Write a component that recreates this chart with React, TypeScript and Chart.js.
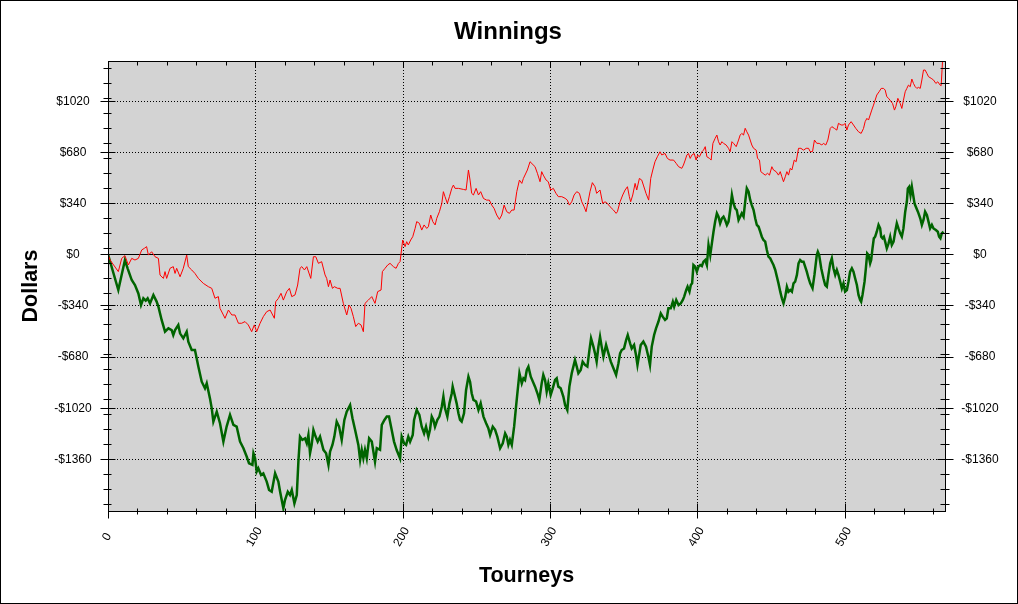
import { useEffect, useRef } from "react";
import { Chart, registerables } from "chart.js";

Chart.register(...registerables);

// ---- axis ranges & ticks ----
const X_MIN = 0;
const X_MAX = 568;
const Y_MIN = -1705;
const Y_MAX = 1284;
const xMajorTicks = [0, 100, 200, 300, 400, 500];
const xMinorTicks = [20, 40, 60, 80, 120, 140, 160, 180, 220, 240, 260, 280, 320, 340, 360, 380, 420, 440, 460, 480, 520, 540, 560];
const yMajorTicks = [-1360, -1020, -680, -340, 0, 340, 680, 1020];
const yMinorTicks = [-1660, -1560, -1460, -1260, -1160, -1060, -960, -860, -760, -660, -560, -460, -360, -260, -160, -60, 40, 140, 240, 440, 540, 640, 740, 840, 940, 1040, 1140, 1240];

const titleText = "Winnings";
const xTitle = "Tourneys";
const yTitle = "Dollars";

// ---- red series (tourney, dollars) ----
const redT = [0, 1.4, 7.0, 9.3, 11.5, 13.8, 16.1, 18.3, 20.6, 22.9, 24.7, 26.2, 27.4, 29.6, 31.9, 34.2, 35.3, 37.6, 38.7, 39.8, 42.1, 44.3, 45.5, 46.6, 48.9, 51.1, 53.4, 54.5, 56.8, 59.0, 61.3, 64.7, 68.1, 70.4, 72.6, 74.9, 76.0, 78.3, 79.4, 81.7, 84.0, 86.2, 88.5, 90.7, 93.0, 95.2,
  97.5, 99.3, 100.9, 103.2, 105.4, 107.7, 110.0, 112.9, 113.8, 115.6, 117.4, 119.0, 121.3, 123.1, 124.7, 126.9, 128.7, 130.3, 131.5, 133.3, 134.9, 137.6, 139.4, 141.0, 142.8, 145.0, 147.3, 148.4, 149.6, 150.7, 152.3, 153.6, 155.9, 157.5, 159.7, 162.0, 163.6, 164.9, 166.5, 168.1, 169.9, 171.7, 173.3, 174.4, 176.7, 179.0, 181.2, 183.0, 185.3, 186.2, 188.0, 189.8, 191.4,
  193.7, 195.5, 197.1, 198.2, 200.0, 201.6, 202.7, 203.8, 205.4, 206.8, 208.4, 209.5, 211.3, 212.9, 214.5, 216.3, 217.4, 219.0, 220.4, 222.0, 223.1, 224.9, 226.5, 227.6, 228.7, 230.3, 231.7, 233.3, 234.4, 235.5, 237.8, 241.2, 243.0, 244.6, 245.7, 246.8, 248.0, 249.8, 251.4, 252.9, 254.8, 257.0, 258.8, 260.4, 262.0, 263.8, 265.6, 267.2, 268.8, 270.6, 272.4, 274.0, 275.6, 277.4, 279.2, 280.8, 281.9, 284.6,
  286.4, 289.8, 291.4, 293.2, 294.3, 295.4, 297.3, 298.8, 300.4, 302.2, 304.0, 305.6, 307.9, 310.2, 311.7, 313.1, 314.7, 316.3, 318.1, 319.9, 321.5, 323.1, 324.4, 326.0, 327.1, 328.7, 330.5, 331.6, 333.9, 335.7, 337.3, 338.9, 340.7, 343.0, 344.8, 345.7, 347.5, 349.3, 350.9, 352.5, 353.8, 354.7, 356.1, 357.7, 358.8, 360.6, 362.2, 363.3, 365.1, 366.9, 368.3, 369.7, 371.2, 372.8, 374.6, 375.8, 378.0, 379.6, 381.4,
  383.8, 385.6, 387.2, 389.4, 390.5, 391.7, 392.8, 393.9, 395.1, 396.2, 397.8, 399.1, 400.1, 401.4, 403.0, 404.1, 405.3, 406.4, 408.2, 409.3, 410.5, 412.0, 413.2, 414.3, 415.4, 416.6, 417.7, 419.5, 421.1, 422.2, 423.4, 424.5, 426.3, 427.9, 429.0, 430.1, 431.3, 432.4, 433.5, 434.7, 435.8, 436.9, 438.1, 439.9, 440.8, 442.1, 443.0, 444.4, 446.0, 447.6, 448.9, 450.5, 451.6, 453.4, 455.0, 456.2, 457.3, 458.4, 459.6, 460.7, 461.8, 463.0, 464.1, 465.7, 467.0, 468.6, 470.2, 472.0, 473.8,
  475.4, 476.5, 478.1, 479.4, 481.0, 482.6, 484.4, 485.5, 487.1, 488.5, 490.1, 491.2, 493.0, 494.6, 495.7, 497.5, 499.1, 500.2, 501.4, 502.5, 504.3, 505.9, 507.5, 509.3, 511.1, 512.7, 513.8, 515.0, 516.1, 517.2, 518.3, 519.5, 520.6, 521.7, 523.3, 524.7, 526.3, 527.4, 528.5, 529.7, 531.5, 532.4, 533.7, 534.6, 536.0, 537.6, 538.7, 539.8, 541.0, 542.1, 543.2, 544.4, 545.5, 546.6, 547.8, 548.9, 550.0, 551.2, 552.3, 553.4, 554.5, 555.7, 556.8, 558.6, 560.2, 561.8, 563.1, 564.7, 565.4, 566.3, 567.0];
const redV = [0, -38, -115, -27, -9, -71, -27, -38, -27, 29, 40, 51, -5, 17, -16, -27, -138, -160, -115, -160, -93, -82, -127, -93, -149, -93, -5, -82, -104, -127, -160, -193, -215, -226, -292, -281, -359, -403, -425, -370, -403, -403, -458, -458, -447, -469,
  -514, -469, -514, -458, -414, -381, -370, -425, -315, -293, -259, -304, -248, -226, -281, -270, -204, -93, -82, -104, -82, -160, -16, -16, -60, -49, -137, -160, -215, -171, -226, -215, -226, -226, -326, -403, -337, -359, -414, -480, -458, -469, -514, -326, -304, -281, -326, -248, -237, -115, -93, -71, -60,
  -82, -93, -60, -49, 95, 51, 84, 62, 95, 117, 172, 217, 206, 161, 195, 172, 183, 261, 217, 195, 239, 283, 338, 416, 383, 338, 383, 438, 460, 438, 438, 431, 427, 560, 493, 405, 394, 438, 394, 416, 371, 360, 360, 327, 305, 261, 232, 261, 327, 283, 272, 294, 294, 416, 493, 471, 504, 560,
  615, 582, 538, 482, 549, 526, 493, 482, 427, 438, 405, 383, 383, 372, 360, 327, 349, 394, 416, 405, 349, 316, 283, 360, 416, 476, 449, 405, 427, 338, 349, 338, 316, 294, 272, 283, 349, 394, 427, 449, 383, 349, 394, 471, 427, 504, 493, 460, 405, 360, 504, 560, 615, 648, 681, 660, 670, 637, 626,
  626, 604, 582, 571, 593, 626, 659, 670, 637, 659, 670, 626, 659, 648, 681, 692, 715, 648, 637, 626, 737, 770, 792, 748, 726, 748, 737, 726, 704, 681, 748, 737, 715, 759, 792, 803, 792, 837, 814, 792, 759, 726, 704, 692, 637, 626, 549, 538, 526, 538, 526, 582, 560, 549, 526, 549, 515, 482, 515, 549, 526, 571, 560, 626, 615, 704, 704, 692, 704,
  704, 682, 682, 759, 737, 737, 726, 737, 726, 759, 836, 848, 836, 825, 870, 859, 859, 870, 825, 859, 881, 859, 836, 814, 803, 836, 881, 903, 892, 925, 958, 991, 1024, 1058, 1080, 1102, 1102, 1091, 1047, 1036, 1013, 1002, 958, 980, 1036, 1002, 969, 1024, 1080, 1102, 1124, 1113, 1164, 1135, 1113, 1102, 1109, 1102, 1158, 1224, 1224, 1202, 1180, 1169, 1158, 1135, 1146, 1124, 1120, 1279, 1310];

// ---- green series (tourney, dollars) ----
const greenT = [0, 7.0, 11.5, 13.3, 16.1, 18.3, 20.6, 22.4, 24.0, 25.6, 26.9, 28.5, 30.8, 33.0, 34.2, 36.4, 38.7, 41.0, 43.2, 44.3, 45.5, 47.7, 48.9, 51.1, 53.4, 54.5, 56.8, 59.0, 61.3, 63.6, 65.8, 67.0, 69.2, 70.4, 71.5, 73.8, 76.0, 78.3, 80.5, 82.8, 85.1, 87.3, 89.6, 91.9, 94.1, 95.7,
  98.0, 98.7, 99.8, 100.9, 102.0, 103.9, 105.4, 107.7, 109.3, 111.1, 113.4, 115.6, 116.8, 119.0, 120.1, 122.0, 123.5, 124.7, 126.5, 128.1, 129.2, 130.3, 131.9, 133.7, 134.9, 136.0, 137.1, 138.2, 139.4, 140.5, 142.3, 143.9, 146.2, 148.0, 149.6, 150.7, 152.3, 153.6, 155.2, 156.8, 158.6, 160.4, 162.0, 164.3, 165.9, 167.7, 169.9, 171.1, 172.2, 173.3, 174.4, 175.6, 177.2, 179.0, 181.2, 182.4, 184.6, 185.8, 187.6, 189.2, 190.7,
  192.5, 194.1, 195.9, 198.2, 199.3, 200.9, 202.3, 203.8, 205.0, 206.8, 207.7, 209.5, 211.3, 212.9, 214.5, 215.8, 217.4, 218.5, 219.7, 220.8, 221.9, 223.5, 224.9, 226.5, 227.6, 228.7, 230.3, 231.7, 233.3, 233.9, 235.5, 236.6, 237.8, 238.9, 240.0, 241.6, 243.0, 244.6, 245.7, 246.8, 248.0, 249.8, 251.4, 252.9, 254.8, 256.6, 258.1, 259.3, 261.1, 262.7, 264.2, 266.1, 267.9, 269.5, 270.6, 271.7, 272.8, 274.0, 275.6, 276.9, 277.8, 279.2, 280.8, 281.9, 283.0, 284.2, 285.3, 286.9,
  289.8, 291.4, 292.7, 294.3, 295.4, 296.6, 297.7, 298.8, 300.4, 301.8, 303.4, 304.5, 305.6, 307.2, 309.0, 310.2, 311.7, 313.1, 314.7, 315.8, 316.9, 318.1, 319.2, 320.8, 322.1, 323.7, 325.3, 326.7, 327.8, 329.4, 330.5, 331.6, 332.8, 333.9, 335.0, 336.2, 338.0, 339.6, 341.2, 343.0, 344.8, 346.4, 347.5, 348.6, 350.2, 351.6, 352.7, 354.3, 355.4, 357.0, 358.3, 359.3, 360.6, 361.5, 363.3, 365.1, 366.7, 367.8, 369.0, 370.6, 371.9, 373.5, 375.1, 376.4, 378.0, 379.2, 380.3, 381.9,
  383.3, 384.2, 385.6, 387.2, 388.7, 390.1, 391.0, 392.4, 393.3, 394.6, 395.5, 396.4, 397.3, 398.5, 399.6, 400.7, 401.9, 403.0, 404.1, 405.3, 406.4, 407.5, 408.7, 409.8, 410.9, 412.0, 413.2, 414.3, 415.4, 416.6, 417.7, 418.8, 420.0, 421.1, 422.2, 423.4, 424.5, 425.6, 426.7, 427.9, 429.0, 430.1, 431.3, 432.4, 433.5, 434.7, 435.8, 436.9, 438.1, 439.2, 440.3, 441.5, 442.6, 443.7, 444.8, 446.0, 447.1, 448.2, 449.4, 450.5, 451.6, 452.8, 453.9, 455.0, 456.2, 457.3, 458.4, 459.6, 460.7, 461.8, 463.0, 464.1, 465.2, 466.3, 467.5, 468.6, 469.7, 470.9, 472.0,
  474.2, 475.4, 476.5, 478.1, 479.4, 481.0, 481.7, 482.6, 484.0, 485.5, 486.7, 487.8, 488.9, 490.1, 491.2, 492.3, 493.5, 494.6, 495.7, 496.9, 498.0, 499.1, 500.2, 501.4, 502.5, 503.6, 504.8, 505.9, 507.0, 508.2, 509.3, 510.4, 511.1, 512.0, 513.4, 514.3, 515.2, 516.1, 517.2, 517.9, 518.8, 519.7, 520.6, 521.7, 522.9, 524.0, 524.7, 525.6, 526.5, 527.4, 528.5, 529.7, 530.8, 531.9, 533.1, 534.2, 535.3, 536.4, 537.6, 538.7, 539.8, 541.0, 542.1, 542.8, 543.7, 544.6, 545.5, 546.4, 547.3, 548.2, 549.6, 551.2, 552.3, 553.4, 554.5, 555.7, 556.8, 557.9, 559.1, 560.2, 561.8, 563.1, 564.0, 564.9, 565.8, 567.0];
const greenV = [0, -237, -38, -93, -171, -204, -260, -337, -292, -308, -292, -326, -270, -314, -348, -436, -514, -492, -503, -536, -503, -470, -525, -558, -514, -580, -635, -635, -746, -846, -890, -857, -957, -1023, -1111, -1045, -1122, -1244, -1144, -1067, -1133, -1144, -1244, -1288, -1343, -1388,
  -1399, -1322, -1355, -1443, -1421, -1466, -1455, -1510, -1565, -1577, -1455, -1510, -1577, -1687, -1632, -1577, -1599, -1565, -1654, -1599, -1377, -1211, -1233, -1222, -1255, -1200, -1322, -1266, -1167, -1200, -1244, -1211, -1299, -1322, -1399, -1310, -1266, -1211, -1111, -1144, -1233, -1100, -1045, -1001, -1089, -1167, -1266, -1366, -1299, -1355, -1299, -1355, -1222, -1244, -1377, -1288, -1299, -1133, -1100, -1078, -1078,
  -1166, -1244, -1300, -1355, -1211, -1255, -1266, -1211, -1244, -1200, -1100, -1034, -1067, -1145, -1189, -1145, -1211, -1166, -1078, -1100, -1145, -1100, -1078, -1012, -945, -1023, -1078, -990, -923, -879, -945, -990, -1056, -1100, -1111, -1056, -901, -813, -846, -923, -967, -978, -1034, -990, -1078, -1122, -1155, -1200, -1145, -1166, -1211, -1288, -1255, -1189, -1211, -1266, -1233, -1266, -1145, -1012, -923, -790, -857, -824, -835, -768, -746, -813,
  -879, -923, -967, -857, -801, -835, -912, -857, -934, -890, -835, -824, -879, -890, -945, -1001, -1034, -879, -790, -746, -702, -746, -790, -768, -713, -735, -746, -636, -558, -613, -658, -713, -613, -547, -613, -680, -602, -658, -713, -757, -801, -724, -658, -636, -625, -569, -536, -591, -625, -602, -669, -735, -658, -602, -580, -613, -680, -735, -613, -536, -492, -448, -392, -414, -436, -425, -359, -359,
  -315, -348, -303, -337, -326, -303, -281, -237, -215, -248, -204, -193, -71, -82, -115, -82, -71, -78, -49, -38, -71, 62, -5, 73, 150, 216, 272, 250, 206, 239, 250, 228, 195, 217, 294, 394, 338, 305, 294, 228, 250, 272, 250, 349, 438, 416, 361, 327, 294, 239, 195, 183, 150, 117, 95, 84, 29, -16, -27, -49, -71, -104, -148, -193, -248, -292, -325, -281, -215, -248, -237, -248, -193, -182, -137, -60, -38, -49, -49,
  -115, -159, -193, -226, -137, -5, 17, -5, -93, -159, -204, -215, -137, -60, -27, -93, -137, -104, -137, -182, -226, -193, -248, -237, -182, -115, -93, -115, -159, -204, -270, -303, -315, -270, -182, -93, 6, -5, -60, -38, 40, 106, 117, 150, 195, 172, 117, 106, 117, 84, 40, 73, 117, 62, 84, 150, 206, 172, 139, 117, 172, 283, 349, 438, 449, 394, 449, 394, 338, 316, 283, 239, 195, 228, 283, 261, 217, 172, 195, 172, 161, 150, 117, 106, 139, 150];

const FONT = '"Liberation Sans", Arial, sans-serif';

function dollar(v: number): string {
  return v < 0 ? "-$" + Math.abs(v) : "$" + v;
}

const zedPlugin = {
  id: "zedAxes",
  beforeDraw(chart: any) {
    const { ctx, chartArea: a, scales } = chart;
    const xs = scales.x;
    const ys = scales.y;
    ctx.save();
    ctx.fillStyle = "#ffffff";
    ctx.fillRect(0, 0, chart.width, chart.height);
    ctx.fillStyle = "#d3d3d3";
    ctx.fillRect(a.left, a.top, a.right - a.left, a.bottom - a.top);
    ctx.strokeStyle = "#000000";
    ctx.lineWidth = 1;
    ctx.setLineDash([1, 2]);
    for (const v of xMajorTicks) {
      if (v === X_MIN) continue;
      const px = Math.round(xs.getPixelForValue(v)) + 0.5;
      ctx.beginPath();
      ctx.moveTo(px, a.top);
      ctx.lineTo(px, a.bottom);
      ctx.stroke();
    }
    for (const v of yMajorTicks) {
      if (v === 0) continue;
      const py = Math.round(ys.getPixelForValue(v)) + 0.5;
      ctx.beginPath();
      ctx.moveTo(a.left, py);
      ctx.lineTo(a.right, py);
      ctx.stroke();
    }
    ctx.setLineDash([]);
    const zy = Math.round(ys.getPixelForValue(0)) + 0.5;
    ctx.beginPath();
    ctx.moveTo(a.left, zy);
    ctx.lineTo(a.right, zy);
    ctx.stroke();
    ctx.restore();
  },
  afterDatasetsDraw(chart: any) {
    const { ctx, chartArea: a, scales } = chart;
    const xs = scales.x;
    const ys = scales.y;
    const L = Math.round(a.left) + 0.5;
    const R = Math.round(a.right) + 0.5;
    const T = Math.round(a.top) + 0.5;
    const B = Math.round(a.bottom) + 0.5;
    ctx.save();
    ctx.strokeStyle = "#000000";
    ctx.lineWidth = 1;
    ctx.setLineDash([]);
    ctx.strokeRect(L, T, R - L, B - T);

    const seg = (x1: number, y1: number, x2: number, y2: number) => {
      ctx.beginPath();
      ctx.moveTo(x1, y1);
      ctx.lineTo(x2, y2);
      ctx.stroke();
    };
    // y ticks (left & right)
    for (const v of yMajorTicks) {
      const py = Math.round(ys.getPixelForValue(v)) + 0.5;
      seg(L - 8, py, L + 7, py);
      seg(R - 8, py, R + 8, py);
    }
    for (const v of yMinorTicks) {
      const py = Math.round(ys.getPixelForValue(v)) + 0.5;
      seg(L - 5, py, L + 3, py);
      seg(R - 5, py, R + 4, py);
    }
    // x ticks (bottom & top)
    for (const v of xMajorTicks) {
      const px = Math.round(xs.getPixelForValue(v)) + 0.5;
      seg(px, B - 8, px, B + 7);
      seg(px, T, px, T + 6);
    }
    for (const v of xMinorTicks) {
      const px = Math.round(xs.getPixelForValue(v)) + 0.5;
      seg(px, B - 3, px, B + 3);
      seg(px, T, px, T + 4);
    }

    // tick labels
    ctx.fillStyle = "#000000";
    ctx.font = "12px " + FONT;
    ctx.textAlign = "center";
    ctx.textBaseline = "middle";
    for (const v of yMajorTicks) {
      const py = ys.getPixelForValue(v);
      ctx.fillText(dollar(v), 73, py + 0.5);
      ctx.fillText(dollar(v), 980, py + 0.5);
    }
    for (const v of xMajorTicks) {
      const px = xs.getPixelForValue(v);
      ctx.save();
      ctx.translate(px - 1, 537);
      ctx.rotate(-Math.PI / 3);
      ctx.fillText(String(v), 0, 0);
      ctx.restore();
    }

    // titles
    ctx.textBaseline = "alphabetic";
    ctx.font = "bold 24px " + FONT;
    ctx.fillText(titleText, 508, 39);
    ctx.font = "bold 21.5px " + FONT;
    ctx.fillText(xTitle, (a.left + a.right) / 2, 582);
    ctx.save();
    ctx.translate(37, (a.top + a.bottom) / 2);
    ctx.rotate(-Math.PI / 2);
    ctx.fillText(yTitle, 0, 0);
    ctx.restore();

    // outer frame
    ctx.strokeRect(0.5, 0.5, chart.width - 1, chart.height - 1);
    ctx.restore();
  },
};

export default function App() {
  const ref = useRef<HTMLCanvasElement | null>(null);
  useEffect(() => {
    document.body.style.margin = "0";
    document.body.style.overflow = "hidden";
    const canvas = ref.current;
    if (!canvas) return;
    const chart = new Chart(canvas, {
      type: "line",
      data: {
        datasets: [
          {
            label: "Red",
            data: redT.map((t, i) => ({ x: t, y: redV[i] })),
            borderColor: "#ff0000",
            borderWidth: 1,
            pointRadius: 0,
            tension: 0,
            fill: false,
          },
          {
            label: "Green",
            data: greenT.map((t, i) => ({ x: t, y: greenV[i] })),
            borderColor: "#006400",
            borderWidth: 2.5,
            pointRadius: 0,
            tension: 0,
            fill: false,
          },
        ],
      },
      options: {
        animation: false,
        responsive: false,
        maintainAspectRatio: false,
        events: [],
        layout: { padding: { left: 108, top: 61, right: 73, bottom: 93 } },
        scales: {
          x: { type: "linear", display: false, min: X_MIN, max: X_MAX },
          y: { type: "linear", display: false, min: Y_MIN, max: Y_MAX },
        },
        plugins: {
          legend: { display: false },
          tooltip: { enabled: false },
          title: { display: false },
        },
      },
      plugins: [zedPlugin],
    } as any);
    return () => chart.destroy();
  }, []);
  return (
    <canvas
      ref={ref}
      width={1018}
      height={604}
      style={{ display: "block", width: "1018px", height: "604px" }}
    />
  );
}
